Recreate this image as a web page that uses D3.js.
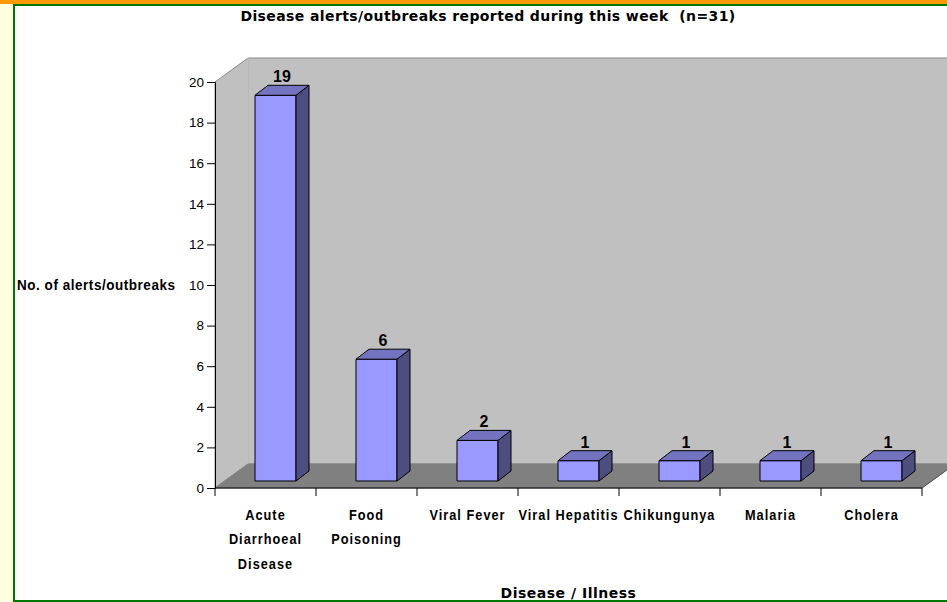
<!DOCTYPE html>
<html><head><meta charset="utf-8">
<script src="https://cdn.jsdelivr.net/npm/d3@7"></script>
<style>
html,body{margin:0;padding:0;background:#fff;overflow:hidden}
svg{display:block}
</style></head>
<body>
<script>
const categories = [["Acute","Diarrhoeal","Disease"],["Food","Poisoning"],["Viral Fever"],["Viral Hepatitis"],["Chikungunya"],["Malaria"],["Cholera"]];
const values = [19, 6, 2, 1, 1, 1, 1];
const yTicks = [0,2,4,6,8,10,12,14,16,18,20];
const title = "Disease alerts/outbreaks reported during this week\u00a0\u00a0(n=31)";
const yTitle = "No. of alerts/outbreaks";
const xTitle = "Disease / Illness";

const W = 947, H = 602;
const svg = d3.select("body").append("svg").attr("width", W).attr("height", H);

// page frame
svg.append("rect").attr("x",0).attr("y",0).attr("width",W).attr("height",H).attr("fill","#fff");
svg.append("rect").attr("x",0).attr("y",0).attr("width",13).attr("height",H).attr("fill","#FFFFE0");
svg.append("rect").attr("x",0).attr("y",0).attr("width",W).attr("height",4).attr("fill","#FF9900");
svg.append("rect").attr("x",13).attr("y",4).attr("width",W).attr("height",2).attr("fill","#007700");
svg.append("rect").attr("x",13).attr("y",4).attr("width",2).attr("height",H).attr("fill","#007700");
svg.append("rect").attr("x",13).attr("y",H-2).attr("width",W).attr("height",2).attr("fill","#007700");

const x0 = 215, x1 = 922;
const x = d3.scaleBand().domain(d3.range(values.length)).range([x0, x1]).padding(0);
const y = d3.scaleLinear().domain([0, 20]).range([488, 82]);

const DX = 33, DY = -24; // wall depth
const pts = a => a.map(p=>p.join(",")).join(" ");
// back wall
svg.append("polygon")
  .attr("points", pts([[x0+DX, y(20)+DY],[W+50, y(20)+DY],[W+50, y(0)+DY],[x0+DX, y(0)+DY]]))
  .attr("fill","#C0C0C0").attr("stroke","#8a8a8a").attr("stroke-width",1);
// left wall
svg.append("polygon")
  .attr("points", pts([[x0, y(20)],[x0+DX, y(20)+DY],[x0+DX, y(0)+DY],[x0, y(0)]]))
  .attr("fill","#C0C0C0").attr("stroke","#8a8a8a").attr("stroke-width",1);
svg.append("line").attr("x1",x0+DX).attr("x2",x0+DX).attr("y1",y(20)+DY).attr("y2",y(0)+DY).attr("stroke","#dcdcdc");
// floor
svg.append("polygon")
  .attr("points", pts([[x0, y(0)],[x1, y(0)],[x1+DX, y(0)+DY],[x0+DX, y(0)+DY]]))
  .attr("fill","#808080").attr("stroke","#808080");
svg.append("line").attr("x1",x1).attr("y1",y(0)).attr("x2",x1+DX).attr("y2",y(0)+DY).attr("stroke","#555").attr("stroke-width",1);

// axes
const yAxis = d3.axisLeft(y).tickValues(yTicks).tickSize(8).tickPadding(3);
const gy = svg.append("g").attr("transform",`translate(${x0},0)`).call(yAxis);
gy.select(".domain").attr("stroke","#000");
gy.selectAll(".tick line").attr("stroke","#000");
gy.selectAll(".tick text").attr("font-family","Liberation Sans, Arial, sans-serif").attr("font-size",13.5).attr("fill","#000");

svg.append("line").attr("x1",x0).attr("x2",x1).attr("y1",y(0)).attr("y2",y(0)).attr("stroke","#000");
const boundaries = d3.range(values.length+1).map(i => i < values.length ? x(i) : x1);
svg.selectAll(".xt").data(boundaries).join("line")
  .attr("x1",d=>d).attr("x2",d=>d).attr("y1",y(0)).attr("y2",y(0)+8).attr("stroke","#000");

// bars
const bw = 41, bOff = 40, bdx = 13, bdy = -10, fShift = 7;
const bars = svg.append("g");
values.forEach((v,i) => {
  const L = x(i) + bOff, R = L + bw;
  const T = y(v) - fShift, B = y(0) - fShift;
  bars.append("polygon").attr("points", pts([[L,T],[R,T],[R,B],[L,B]]))
    .attr("fill","#9999FF").attr("stroke","#000").attr("stroke-width",1);
  bars.append("polygon").attr("points", pts([[R,T],[R+bdx,T+bdy],[R+bdx,B+bdy],[R,B]]))
    .attr("fill","#4D4D80").attr("stroke","#000").attr("stroke-width",1);
  bars.append("polygon").attr("points", pts([[L,T],[L+bdx,T+bdy],[R+bdx,T+bdy],[R,T]]))
    .attr("fill","#7373C0").attr("stroke","#000").attr("stroke-width",1);
  svg.append("text").attr("x", L + (bw+bdx)/2).attr("y", T + bdy - 3)
    .attr("text-anchor","middle").attr("font-family","Liberation Sans, Arial, sans-serif")
    .attr("font-weight","bold").attr("font-size",16).text(v);
});

// category labels (condensed bold)
const catFont = "'Liberation Sans', Arial, sans-serif";
const sx = 0.85;
categories.forEach((lines,i) => {
  const cx = x(i) + x.bandwidth()/2;
  const g = svg.append("g").attr("transform", `translate(${cx},0) scale(${sx},1)`);
  const t = g.append("text").attr("x", 0).attr("y", 520)
    .attr("text-anchor","middle").attr("font-family",catFont).attr("font-weight","bold")
    .attr("font-size",15).attr("letter-spacing",1.2);
  lines.forEach((ln,j) => t.append("tspan").attr("x", 0).attr("y", 520 + j*24.5).text(ln));
});

// titles
svg.append("text").attr("x", 488).attr("y", 21).attr("text-anchor","middle")
  .attr("font-family","'DejaVu Sans', Verdana, sans-serif").attr("font-weight","bold")
  .attr("font-size",14).attr("letter-spacing",0.4).text(title);
svg.append("g").attr("transform", `translate(17,290) scale(0.9,1)`)
  .append("text").attr("x", 0).attr("y", 0)
  .attr("font-family",catFont).attr("font-weight","bold")
  .attr("font-size",15).attr("letter-spacing",0.6).text(yTitle);
svg.append("text").attr("x", (x0+x1)/2).attr("y", 598).attr("text-anchor","middle")
  .attr("font-family","'DejaVu Sans', Verdana, sans-serif").attr("font-weight","bold")
  .attr("font-size",14).attr("letter-spacing",0.5).text(xTitle);
</script>
</body></html>
